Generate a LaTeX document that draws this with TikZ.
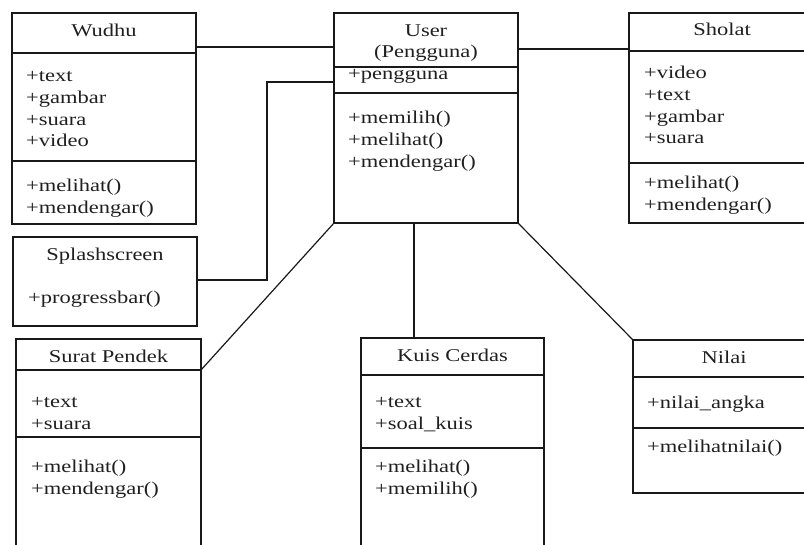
\documentclass[tikz,border=0pt]{standalone}
\usepackage{fontspec}
\setmainfont[FakeStretch=1.25]{Liberation Serif}
\begin{document}
\begin{tikzpicture}[x=1pt,y=-1pt,
  box/.style={draw=black!90, line width=1.3pt, inner sep=0pt, outer sep=0pt, anchor=north west},
  sep/.style={line width=1.3pt, draw=black!90},
  txt/.style={anchor=base west, inner sep=0pt, font=\fontsize{18}{21}\selectfont, text=black!88},
  ttl/.style={anchor=base, inner sep=0pt, font=\fontsize{18}{21}\selectfont, text=black!88},
  conn/.style={line width=1.2pt, draw=black!90}]
\useasboundingbox (0,0) rectangle (804,545);
\clip (0,0) rectangle (804,545);

% Wudhu
\node[box, minimum width=184pt, minimum height=211pt] (wudhu) at (12,13) {};
\draw[sep] (wudhu.west |- 0,53) -- (wudhu.east |- 0,53);
\draw[sep] (wudhu.west |- 0,161) -- (wudhu.east |- 0,161);
\node[ttl] (wudhu-t) at (wudhu.north |- 0,37) {Wudhu};
\foreach \t [count=\i from 0] in {+text,+gambar,+suara,+video}
  \node[txt] (wudhu-a\i) at (26,{82+21.6*\i}) {\t};
\foreach \t [count=\i from 0] in {+melihat(),+mendengar()}
  \node[txt] (wudhu-m\i) at (26,{192+21.6*\i}) {\t};

% Splashscreen
\node[box, minimum width=184pt, minimum height=89pt] (splash) at (13,237) {};
\node[ttl] (splash-t) at (splash.north |- 0,261) {Splashscreen};
\node[txt] (splash-m) at (28,304) {+progressbar()};

% User
\node[box, minimum width=184pt, minimum height=210pt] (user) at (334,13) {};
\draw[sep] (user.west |- 0,67) -- (user.east |- 0,67);
\draw[sep] (user.west |- 0,93) -- (user.east |- 0,93);
\node[ttl] (user-t1) at (user.north |- 0,37) {User};
\node[ttl] (user-t2) at (user.north |- 0,58) {(Pengguna)};
\node[txt] (user-a) at (348,80) {+pengguna};
\foreach \t [count=\i from 0] in {+memilih(),+melihat(),+mendengar()}
  \node[txt] (user-m\i) at (348,{124+21.6*\i}) {\t};

% Sholat
\node[box, minimum width=186pt, minimum height=210pt] (sholat) at (629,13) {};
\draw[sep] (sholat.west |- 0,51) -- (sholat.east |- 0,51);
\draw[sep] (sholat.west |- 0,163) -- (sholat.east |- 0,163);
\node[ttl] (sholat-t) at (sholat.north |- 0,36) {Sholat};
\foreach \t [count=\i from 0] in {+video,+text,+gambar,+suara}
  \node[txt] (sholat-a\i) at (644,{79+21.6*\i}) {\t};
\foreach \t [count=\i from 0] in {+melihat(),+mendengar()}
  \node[txt] (sholat-m\i) at (644,{189+21.6*\i}) {\t};

% Surat Pendek
\node[box, minimum width=185pt, minimum height=230pt] (surat) at (16,339) {};
\draw[sep] (surat.west |- 0,370) -- (surat.east |- 0,370);
\draw[sep] (surat.west |- 0,437) -- (surat.east |- 0,437);
\node[ttl] (surat-t) at (surat.north |- 0,363) {Surat Pendek};
\foreach \t [count=\i from 0] in {+text,+suara}
  \node[txt] (surat-a\i) at (31,{408+21.5*\i}) {\t};
\foreach \t [count=\i from 0] in {+melihat(),+mendengar()}
  \node[txt] (surat-m\i) at (31,{473+21.5*\i}) {\t};

% Kuis Cerdas
\node[box, minimum width=183pt, minimum height=230pt] (kuis) at (361,338) {};
\draw[sep] (kuis.west |- 0,375) -- (kuis.east |- 0,375);
\draw[sep] (kuis.west |- 0,448) -- (kuis.east |- 0,448);
\node[ttl] (kuis-t) at (kuis.north |- 0,362) {Kuis Cerdas};
\foreach \t [count=\i from 0] in {+text,+soal\_kuis}
  \node[txt] (kuis-a\i) at (375,{408+21.5*\i}) {\t};
\foreach \t [count=\i from 0] in {+melihat(),+memilih()}
  \node[txt] (kuis-m\i) at (375,{473+21.5*\i}) {\t};

% Nilai
\node[box, minimum width=182pt, minimum height=153pt] (nilai) at (633,340) {};
\draw[sep] (nilai.west |- 0,377) -- (nilai.east |- 0,377);
\draw[sep] (nilai.west |- 0,428) -- (nilai.east |- 0,428);
\node[ttl] (nilai-t) at (nilai.north |- 0,364) {Nilai};
\node[txt] (nilai-a) at (647,409) {+nilai\_angka};
\node[txt] (nilai-m) at (647,453) {+melihatnilai()};

% connectors
\draw[conn] ([yshift=-34pt]wudhu.north east) -- ([yshift=-34pt]wudhu.north east -| user.west);
\coordinate (bend) at (267,82);
\draw[conn] ([yshift=-43pt]splash.north east) -| (bend) -- (bend -| user.west);
\draw[conn] ([yshift=-36pt]user.north east) -- ([yshift=-36pt]user.north east -| sholat.west);
\draw[conn] (user.south west) -- ([yshift=-31pt]surat.north east);
\draw[conn] ([xshift=-38.5pt]kuis.north) -- ([xshift=-38.5pt]kuis.north |- user.south);
\draw[conn] (user.south east) -- (nilai.north west);
\end{tikzpicture}
\end{document}
